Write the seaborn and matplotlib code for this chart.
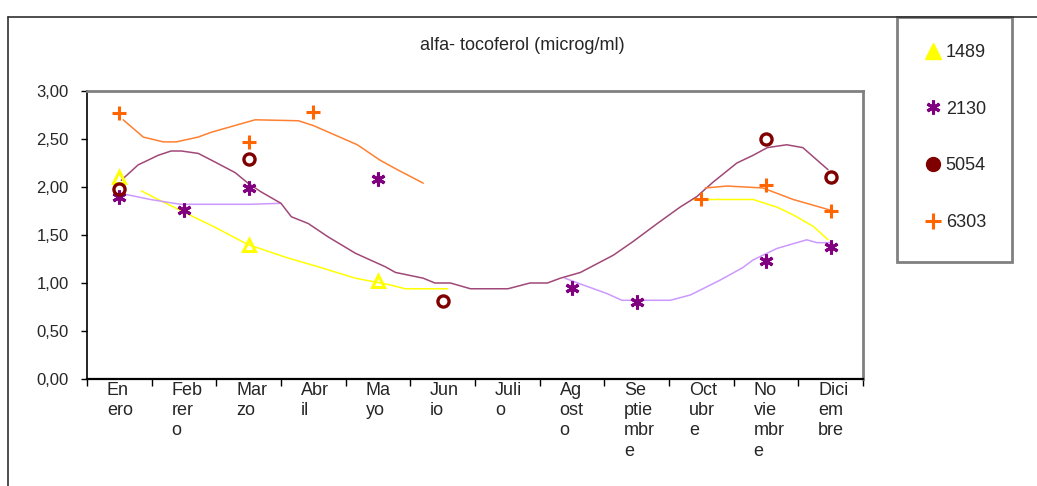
import numpy as np
import pandas as pd
import matplotlib
matplotlib.use("Agg")
import matplotlib.pyplot as plt
import seaborn as sns
from matplotlib.lines import Line2D
from matplotlib.patches import Rectangle
from matplotlib.transforms import ScaledTranslation

# ---------------- data ----------------
title = "alfa- tocoferol (microg/ml)"
month_labels = ["En\nero", "Feb\nrer\no", "Mar\nzo", "Abr\nil", "Ma\nyo", "Jun\nio",
                "Juli\no", "Ag\nost\no", "Se\nptie\nmbr\ne", "Oct\nubr\ne",
                "No\nvie\nmbr\ne", "Dici\nem\nbre"]
y_ticks = [0.0, 0.5, 1.0, 1.5, 2.0, 2.5, 3.0]
y_tick_labels = ["0,00", "0,50", "1,00", "1,50", "2,00", "2,50", "3,00"]
series_names = ["1489", "2130", "5054", "6303"]

nan = np.nan
# measured points (one per month, Enero..Diciembre)
pts_1489 = [2.10, nan, 1.40, nan, 1.02, nan, nan, nan, nan, nan, nan, nan]
pts_2130 = [1.90, 1.76, 1.99, nan, 2.08, nan, nan, 0.95, 0.80, nan, 1.23, 1.38]
pts_5054 = [1.98, nan, 2.29, nan, nan, 0.81, nan, nan, nan, nan, 2.50, 2.10]
pts_6303 = [2.77, nan, 2.47, 2.78, nan, nan, nan, nan, nan, 1.88, 2.02, 1.75]

# smoothed trend curves (month position, value)
trend_1489_a_x = [0.34, 0.57, 1.48, 1.99, 2.61, 3.12, 3.65, 4.19, 4.42, 5.08]
trend_1489_a_y = [1.96, 1.88, 1.58, 1.40, 1.26, 1.16, 1.05, 0.98, 0.94, 0.94]
trend_1489_b_x = [8.87, 9.80, 10.17, 10.42, 10.73, 10.96]
trend_1489_b_y = [1.87, 1.87, 1.79, 1.71, 1.59, 1.45]

trend_2130_a_x = [0.05, 0.48, 0.94, 2.02, 2.49]
trend_2130_a_y = [1.93, 1.87, 1.82, 1.82, 1.83]
trend_2130_b_x = [6.89, 7.13, 7.54, 7.77, 8.52, 8.83, 9.29, 9.64, 9.80, 10.17, 10.63, 10.79, 10.99]
trend_2130_b_y = [1.05, 0.99, 0.89, 0.82, 0.82, 0.875, 1.03, 1.16, 1.24, 1.36, 1.45, 1.42, 1.42]

trend_5054_x = [0.03, 0.29, 0.60, 0.80, 0.96, 1.22, 1.48, 1.79, 1.99, 2.19, 2.50, 2.66,
                2.92, 3.23, 3.65, 4.11, 4.27, 4.70, 4.88, 5.12, 5.43, 6.01, 6.35, 6.62,
                6.82, 7.13, 7.64, 7.94, 8.32, 8.67, 8.93, 9.18, 9.55, 9.80, 10.02, 10.32,
                10.57, 10.79, 10.96]
trend_5054_y = [2.07, 2.23, 2.33, 2.375, 2.375, 2.35, 2.26, 2.15, 2.04, 1.95, 1.83, 1.69,
                1.62, 1.48, 1.31, 1.17, 1.11, 1.05, 1.00, 1.00, 0.94, 0.94, 1.00, 1.00,
                1.05, 1.11, 1.29, 1.43, 1.62, 1.79, 1.90, 2.05, 2.25, 2.33, 2.41, 2.44,
                2.41, 2.28, 2.18]

trend_6303_a_x = [0.06, 0.37, 0.68, 0.88, 1.22, 1.42, 1.89, 2.10, 2.77, 3.00, 3.68, 4.03, 4.30, 4.70]
trend_6303_a_y = [2.70, 2.52, 2.47, 2.47, 2.52, 2.57, 2.66, 2.70, 2.69, 2.64, 2.44, 2.28, 2.18, 2.04]
trend_6303_b_x = [9.06, 9.40, 9.95, 10.42, 10.99]
trend_6303_b_y = [1.99, 2.01, 1.99, 1.87, 1.76]

# ---------------- style ----------------
sns.set_style("white")
plt.rcParams["font.family"] = ["Liberation Sans", "DejaVu Sans"]

marker_colors = {"1489": "#FFFF00", "2130": "#800080", "5054": "#800000", "6303": "#FF6600"}
line_colors = {"1489": "#FFFF00", "2130": "#CC99FF", "5054": "#A04878", "6303": "#FF8030"}
asterisk = (6, 2, 0)

fig = plt.figure(figsize=(10.37, 4.86), dpi=100)
W, H = 1037, 486
ax = fig.add_axes([87 / W, 107 / H, 776 / W, 288 / H])

# trend curves
trends = [
    ("1489", trend_1489_a_x, trend_1489_a_y), ("1489", trend_1489_b_x, trend_1489_b_y),
    ("2130", trend_2130_a_x, trend_2130_a_y), ("2130", trend_2130_b_x, trend_2130_b_y),
    ("5054", trend_5054_x, trend_5054_y),
    ("6303", trend_6303_a_x, trend_6303_a_y), ("6303", trend_6303_b_x, trend_6303_b_y),
]
for name, tx, ty in trends:
    sns.lineplot(x=tx, y=ty, ax=ax, color=line_colors[name], linewidth=1.1,
                 estimator=None, sort=False, legend=False)

# markers
month_idx = np.arange(12)
marker_specs = {
    "1489": dict(marker="^", markersize=9, markerfacecolor="none", markeredgewidth=2.2),
    "2130": dict(marker=asterisk, markersize=10, markeredgewidth=2.2),
    "5054": dict(marker="o", markersize=8, markerfacecolor="none", markeredgewidth=2.4),
    "6303": dict(marker="+", markersize=10, markeredgewidth=2.2),
}
for name, vals in zip(series_names, [pts_1489, pts_2130, pts_5054, pts_6303]):
    df = pd.DataFrame({"mes": month_idx, "valor": vals}).dropna()
    spec = marker_specs[name]
    sns.lineplot(data=df, x="mes", y="valor", ax=ax, linestyle="", color=marker_colors[name],
                 markeredgecolor=marker_colors[name], estimator=None, legend=False, **spec)

# axes
ax.set_xlim(-0.5, 11.5)
ax.set_ylim(0, 3)
ax.set_xlabel("")
ax.set_ylabel("")
ax.set_yticks(y_ticks)
ax.set_yticklabels(y_tick_labels, fontsize=12)
ax.tick_params(axis="y", direction="out", length=4, width=1, color="black", pad=9, left=True)

ax.set_xticks(np.arange(-0.5, 12, 1.0))
ax.set_xticklabels([])
ax.tick_params(axis="x", which="major", direction="out", length=5, width=1, color="black", bottom=True)
ax.set_xticks(month_idx, minor=True)
ax.set_xticklabels(month_labels, minor=True, fontsize=13, ha="left", va="top",
                   linespacing=1.25)
ax.tick_params(axis="x", which="minor", length=0, pad=2)
offset = ScaledTranslation(-12.5 / 100, 0, fig.dpi_scale_trans)
for lab in ax.get_xticklabels(minor=True):
    lab.set_transform(lab.get_transform() + offset)

for side in ["top", "right"]:
    ax.spines[side].set_color("#808080")
    ax.spines[side].set_linewidth(2)
ax.spines["left"].set_color("black")
ax.spines["left"].set_linewidth(1.2)
ax.spines["bottom"].set_color("black")
ax.spines["bottom"].set_linewidth(1.6)
ax.grid(False)

# title
fig.text(522 / W, 1 - 45 / H, title, ha="center", va="center", fontsize=13)

# chart-area border (top and left)
fig.add_artist(Line2D([8 / W, 1.0], [1 - 17 / H, 1 - 17 / H], color="#303030", linewidth=1.2))
fig.add_artist(Line2D([8 / W, 8 / W], [0, 1 - 17 / H], color="#303030", linewidth=1.2))

# legend box
fig.add_artist(Rectangle((897 / W, 1 - 262 / H), 115 / W, 245 / H, transform=fig.transFigure,
                         fill=False, edgecolor="#808080", linewidth=2))
handles = [
    Line2D([], [], linestyle="", marker="^", markersize=11, color="#FFFF00"),
    Line2D([], [], linestyle="", marker=asterisk, markersize=10, markeredgewidth=2.2, color="#800080"),
    Line2D([], [], linestyle="", marker="o", markersize=10, color="#800000"),
    Line2D([], [], linestyle="", marker="+", markersize=11, markeredgewidth=2.2, color="#FF6600"),
]
fig.legend(handles, series_names, loc="center left",
           bbox_to_anchor=(924 / W, 1 - 137.5 / H), frameon=False, fontsize=13,
           borderaxespad=0, borderpad=0, handlelength=1.0, handletextpad=0.2,
           labelspacing=2.2)

fig.savefig("out.png", dpi=100)
